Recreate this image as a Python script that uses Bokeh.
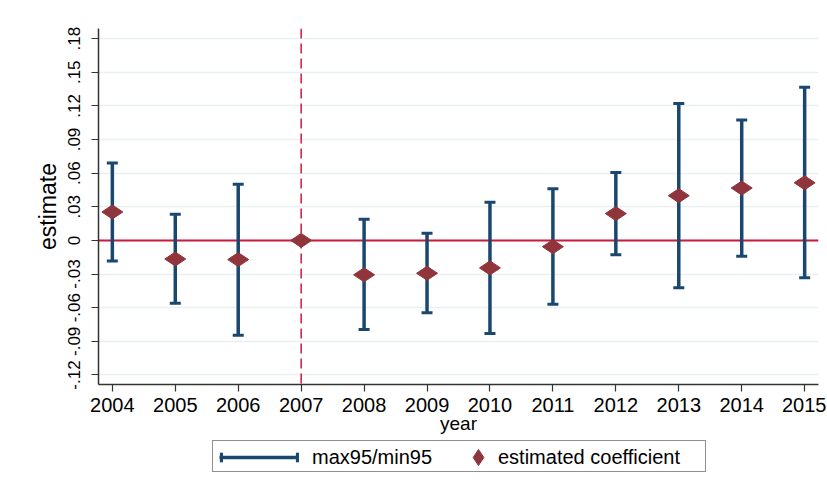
import numpy as np
from bokeh.plotting import figure
from bokeh.layouts import column
from bokeh.models import FixedTicker, Span, Legend, LegendItem, ColumnDataSource
from bokeh.embed import file_html
from bokeh.resources import INLINE

years = [2004, 2005, 2006, 2007, 2008, 2009, 2010, 2011, 2012, 2013, 2014, 2015]
coef = [0.0254, -0.0166, -0.0171, 0.0, -0.0307, -0.0293, -0.0245, -0.0056, 0.0239, 0.0399, 0.0467, 0.0514]
max95 = [0.0691, 0.0233, 0.0502, None, 0.0189, 0.0065, 0.0340, 0.0461, 0.0606, 0.1220, 0.1073, 0.1365]
min95 = [-0.0183, -0.0561, -0.0845, None, -0.0795, -0.0644, -0.0830, -0.0570, -0.0127, -0.0422, -0.0142, -0.0334]
y_ticks = [-0.12, -0.09, -0.06, -0.03, 0, 0.03, 0.06, 0.09, 0.12, 0.15, 0.18]
y_tick_labels = ["-.12", "-.09", "-.06", "-.03", "0", ".03", ".06", ".09", ".12", ".15", ".18"]
ref_year = 2007
legend_labels = ["max95/min95", "estimated coefficient"]

FONT = "Liberation Sans"
NAVY = "#1a476f"
MAROON = "#90353b"
RED = "#cc1a3a"

bx = [y for y, hi in zip(years, max95) if hi is not None]
bhi = [hi for hi in max95 if hi is not None]
blo = [lo for lo in min95 if lo is not None]
bars = ColumnDataSource(dict(x=bx, hi=bhi, lo=blo))
pts = ColumnDataSource(dict(x=years, y=coef))

p = figure(width=826, height=436, output_backend="svg", toolbar_location=None,
           x_range=(2003.78, 2015.22), y_range=(-0.1285, 0.189),
           min_border_left=98, min_border_right=8, min_border_top=28, min_border_bottom=50)
p.background_fill_color = "white"
p.border_fill_color = "white"
p.outline_line_color = None

# grids
p.xgrid.visible = False
p.ygrid.grid_line_color = "#e8f0f2"
p.ygrid.grid_line_width = 1.5
p.ygrid.ticker = FixedTicker(ticks=y_ticks)

# axes
p.yaxis.ticker = FixedTicker(ticks=y_ticks)
p.yaxis.major_label_overrides = {t: l for t, l in zip(y_ticks, y_tick_labels)}
p.yaxis.major_label_orientation = "vertical"
p.yaxis.axis_label = "estimate"
p.xaxis.ticker = FixedTicker(ticks=years)
p.xaxis.axis_label = "year"
for ax in (p.xaxis, p.yaxis):
    ax.axis_line_color = "#333333"
    ax.axis_line_width = 1.5
    ax.major_tick_line_color = "#333333"
    ax.major_tick_line_width = 1.2
    ax.major_tick_out = 7
    ax.major_tick_in = 0
    ax.minor_tick_line_color = None
    ax.major_label_text_font = FONT
    ax.major_label_text_color = "black"
    ax.axis_label_text_font = FONT
    ax.axis_label_text_font_style = "normal"
    ax.axis_label_text_color = "black"
p.yaxis.major_label_text_font_size = "17px"
p.yaxis.axis_label_text_font_size = "23px"
p.yaxis.major_label_standoff = 11
p.yaxis.axis_label_standoff = 5
p.xaxis.major_label_text_font_size = "20px"
p.xaxis.axis_label_text_font_size = "19px"
p.xaxis.major_label_standoff = 6
p.xaxis.axis_label_standoff = -2

# reference lines
zero = Span(location=0, dimension="width", line_color=RED, line_width=2, level="underlay")
vline = Span(location=ref_year, dimension="height", line_color=RED, line_width=1.5,
             line_dash="10 5", level="underlay")
p.add_layout(zero)
p.add_layout(vline)

# error bars
p.segment(x0="x", y0="lo", x1="x", y1="hi", source=bars, line_color=NAVY, line_width=3.5)
p.scatter(x="x", y="hi", source=bars, marker="dash", size=11, line_color=NAVY, line_width=3)
p.scatter(x="x", y="lo", source=bars, marker="dash", size=11, line_color=NAVY, line_width=3)

# estimates
p.scatter(x="x", y="y", source=pts, marker="diamond", size=21, angle=np.pi / 2,
          fill_color=MAROON, line_color=MAROON)

# legend strip (own small figure so the legend is not clipped)
lf = figure(width=826, height=52, output_backend="svg", toolbar_location=None,
            x_axis_location=None, y_axis_location=None,
            min_border_left=0, min_border_right=0, min_border_top=0, min_border_bottom=0)
lf.outline_line_color = None
lf.grid.visible = False
lf.border_fill_color = "white"
key = ColumnDataSource(dict(x=[np.nan], y=[np.nan], x1=[np.nan], y1=[np.nan]))
seg_k = lf.segment(x0="x", y0="y", x1="x1", y1="y1", source=key, line_color=NAVY, line_width=3.5)
cap_k = lf.vbar(x="x", top="y", width=1, source=key, fill_color=NAVY, line_color=None)
ghost_k = lf.scatter(x="x", y="y", source=key, marker="diamond", size=1,
                     fill_alpha=0, line_alpha=0)
dia_k = lf.scatter(x="x", y="y", source=key, marker="diamond", size=21,
                   fill_color=MAROON, line_color=MAROON)


def style(lg):
    lg.orientation = "horizontal"
    lg.label_text_font = FONT
    lg.label_text_font_size = "20px"
    lg.label_text_color = "black"
    lg.padding = 0
    lg.margin = 0
    lg.spacing = 0
    return lg


# outer box of the legend
box = style(Legend(items=[LegendItem(label="", renderers=[ghost_k])], location=(114, 16)))
box.glyph_width = 492
box.glyph_height = 30
box.label_width = 0
box.label_height = 0
box.label_standoff = 0
box.border_line_color = "#222222"
box.border_line_width = 1
box.background_fill_color = "white"
lf.add_layout(box, "center")

# key 1: confidence band (line with end caps)
k1 = style(Legend(items=[LegendItem(label=legend_labels[0], renderers=[seg_k])], location=(121, 16)))
k1.glyph_width = 80
k1.glyph_height = 30
k1.label_standoff = 13
k1.border_line_color = None
k1.background_fill_alpha = 0
lf.add_layout(k1, "center")

for cap_loc in [(121, 25), (197, 25)]:
    cap = style(Legend(items=[LegendItem(label="", renderers=[cap_k])], location=cap_loc))
    cap.glyph_width = 4
    cap.glyph_height = 12
    cap.label_width = 0
    cap.label_height = 0
    cap.label_standoff = 0
    cap.border_line_color = None
    cap.background_fill_alpha = 0
    lf.add_layout(cap, "center")

# key 2: estimated coefficient
k2 = style(Legend(items=[LegendItem(label=legend_labels[1], renderers=[dia_k])], location=(360, 11)))
k2.glyph_width = 40
k2.glyph_height = 40
k2.label_standoff = 0
k2.border_line_color = None
k2.background_fill_alpha = 0
lf.add_layout(k2, "center")

layout = column(p, lf, spacing=0)
open("out.html", "w").write(file_html(layout, INLINE))
